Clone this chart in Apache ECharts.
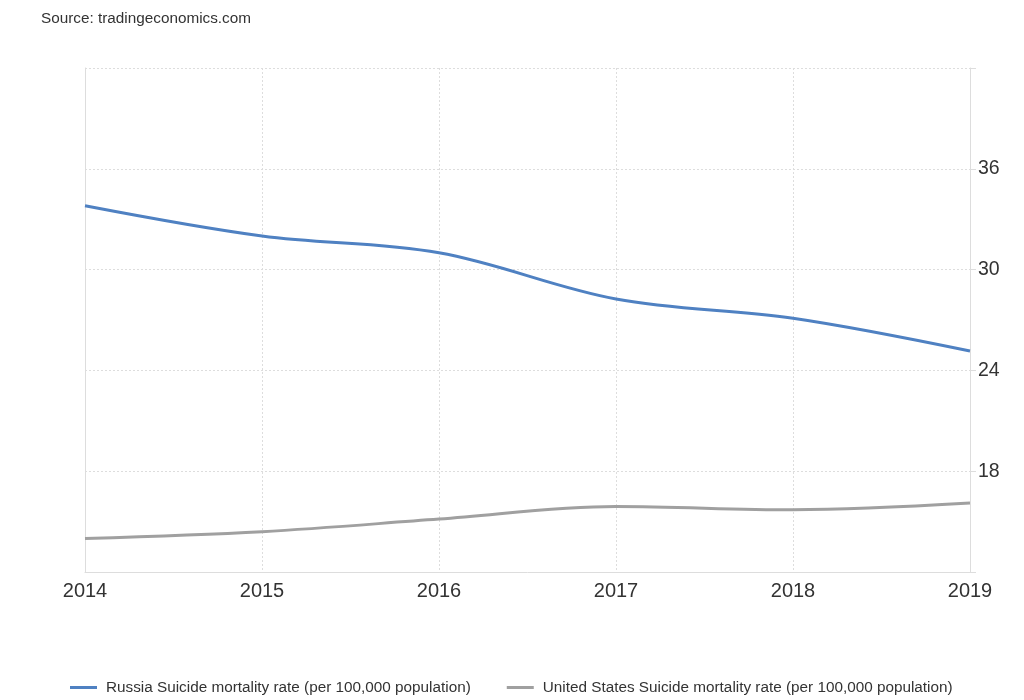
<!DOCTYPE html>
<html><head><meta charset="utf-8">
<script src="https://cdn.jsdelivr.net/npm/echarts@6/dist/echarts.min.js"></script>
<style>html,body{margin:0;padding:0;background:#fff}#c{width:1024px;height:700px}</style>
</head><body><div id="c"></div>
<script>
const years = ['2014','2015','2016','2017','2018','2019'];
const russia = [33.8, 32.0, 31.0, 28.25, 27.1, 25.15];
const usa = [14.0, 14.4, 15.15, 15.9, 15.7, 16.1];
const russiaName = 'Russia Suicide mortality rate (per 100,000 population)';
const usaName = 'United States Suicide mortality rate (per 100,000 population)';
const yTicks = [18, 24, 30, 36];

const chart = echarts.init(document.getElementById('c'));
chart.setOption({
  animation: false,
  backgroundColor: '#fff',
  textStyle: {fontFamily: 'Liberation Sans, Arial, sans-serif'},
  graphic: [{type: 'text', left: 41, top: 11, style: {text: 'Source: tradingeconomics.com', fontSize: 15.3, fill: '#333', fontFamily: 'Liberation Sans, Arial, sans-serif'}}],
  grid: {left: 85, right: 54, top: 68, bottom: 128},
  legend: {
    bottom: 0, left: 65, itemGap: 36, itemWidth: 27, itemHeight: 3,
    icon: 'rect',
    textStyle: {fontSize: 15.3, color: '#333', padding: [0, 0, 0, 4]},
    data: [russiaName, usaName]
  },
  xAxis: {
    type: 'category', data: years, boundaryGap: false,
    axisLine: {show: true, lineStyle: {color: '#ddd'}},
    axisTick: {show: false},
    axisLabel: {fontSize: 20, color: '#333', margin: 9},
    splitLine: {show: true, lineStyle: {color: '#ddd', type: [2, 2]}}
  },
  yAxis: [{
    type: 'value', position: 'right', min: 12, max: 42, interval: 6,
    axisLine: {show: true, lineStyle: {color: '#ddd'}},
    axisTick: {show: true, length: 6, lineStyle: {color: '#ddd'}},
    axisLabel: {fontSize: 19.5, color: '#333', margin: 8,
      formatter: v => yTicks.includes(v) ? String(v) : ''},
    splitLine: {show: true, lineStyle: {color: '#ddd', type: [2, 2]}}
  }, {
    type: 'value', position: 'left', min: 12, max: 42, interval: 6,
    axisLine: {show: true, lineStyle: {color: '#ddd'}},
    axisTick: {show: false}, axisLabel: {show: false}, splitLine: {show: false}
  }],
  series: [
    {name: russiaName, type: 'line', data: russia, smooth: 0.35, symbol: 'none',
     lineStyle: {width: 3, color: '#4f81c2'}, itemStyle: {color: '#4f81c2'}},
    {name: usaName, type: 'line', data: usa, smooth: 0.35, symbol: 'none',
     lineStyle: {width: 3, color: '#a0a0a0'}, itemStyle: {color: '#a0a0a0'}}
  ]
});
</script></body></html>
